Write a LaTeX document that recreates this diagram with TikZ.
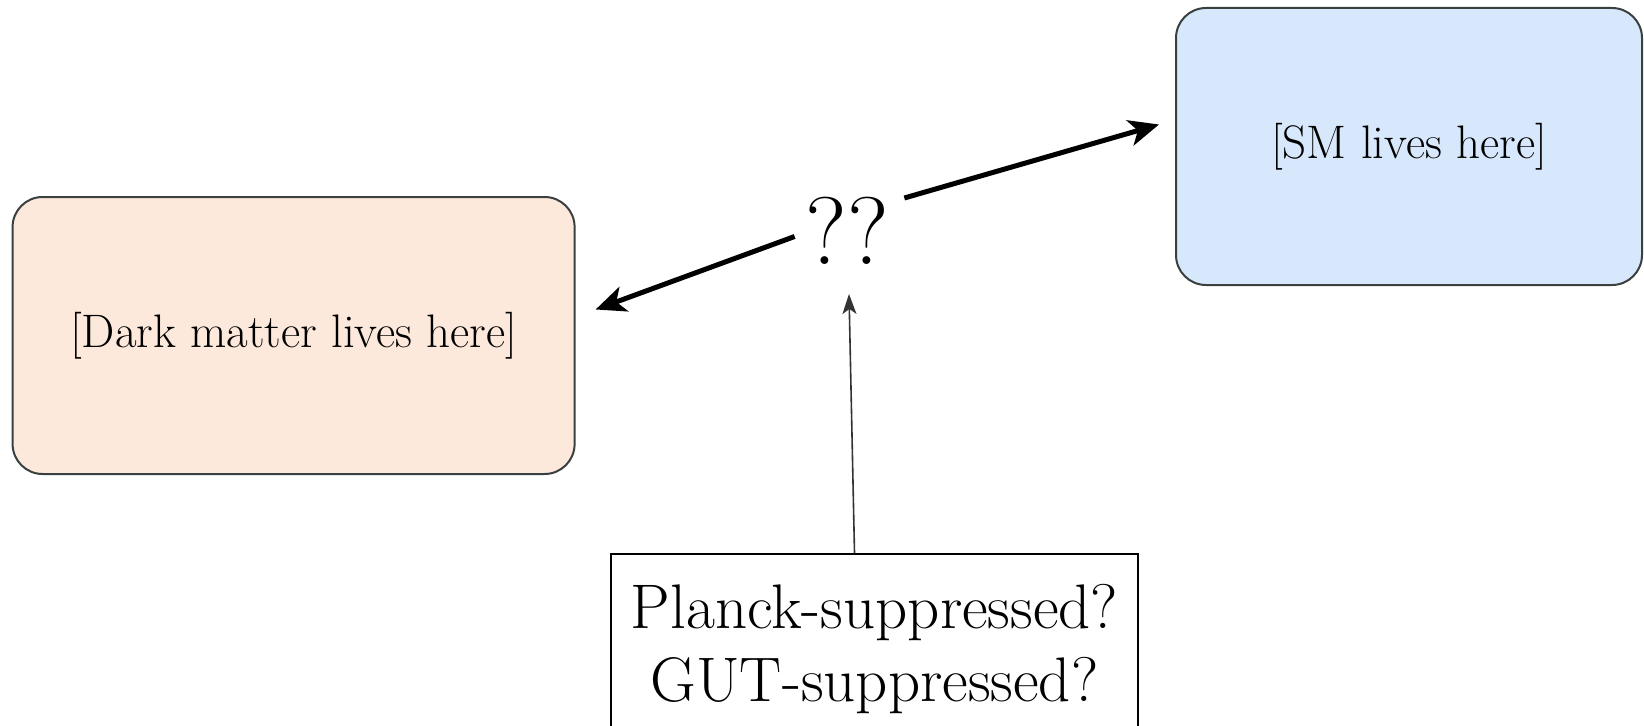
\documentclass[tikz,border=0pt]{standalone}
\usepackage{tikz}
\usetikzlibrary{arrows.meta,positioning,calc}
\definecolor{darkfill}{HTML}{FDE9DB}
\definecolor{smfill}{HTML}{D7E8FC}
\definecolor{edge}{HTML}{3A3F3F}

\begin{document}
\begin{tikzpicture}[
    line width=.8pt,
    region/.style = {
      rounded corners=15pt, draw=edge, line width=1pt,
      minimum height=138.5pt, inner sep=0pt,
      font=\fontsize{23.5pt}{28pt}\selectfont,
    },
    query/.style = {
      inner sep=0pt, font=\fontsize{48pt}{50pt}\selectfont,
    },
    note/.style = {
      draw=black, line width=.8pt, align=center,
      inner xsep=10pt, inner ysep=15pt,
      font=\fontsize{31.5pt}{36.5pt}\selectfont,
    },
    link/.style = {
      black, line width=2.5pt, -{Stealth[length=15pt,width=13pt,inset=4pt]},
    },
    hint/.style = {
      black!80, line width=.8pt, -{Stealth[length=10pt,width=7pt,inset=2.5pt]},
    },
  ]
  \useasboundingbox (0pt,0pt) rectangle (822pt,362.5pt);
  \node[region, fill=darkfill, minimum width=281pt] (Dark) at (146.8pt,194.75pt) {[Dark matter lives here]};
  \node[region, fill=smfill, minimum width=233pt] (SM) at (704.5pt,289.25pt) {[SM lives here]};
  \node[query] (Link) at (423.5pt,247.25pt) {??};
  \node[note, anchor=north] (Note) at (437.25pt,86pt) {Planck-suppressed?\\GUT-suppressed?};
  \draw[link] ($(Link.west)+(-5pt,-3pt)$) -- ($(Dark.east)+(10pt,13pt)$);
  \draw[link] ($(Link.north east)+(7.5pt,-1pt)$) -- ($(SM.west)+(-8pt,11pt)$);
  \draw[hint] ($(Note.north)+(-10pt,0pt)$) -- ($(Link.south)+(1pt,-14.5pt)$);
\end{tikzpicture}
\end{document}
